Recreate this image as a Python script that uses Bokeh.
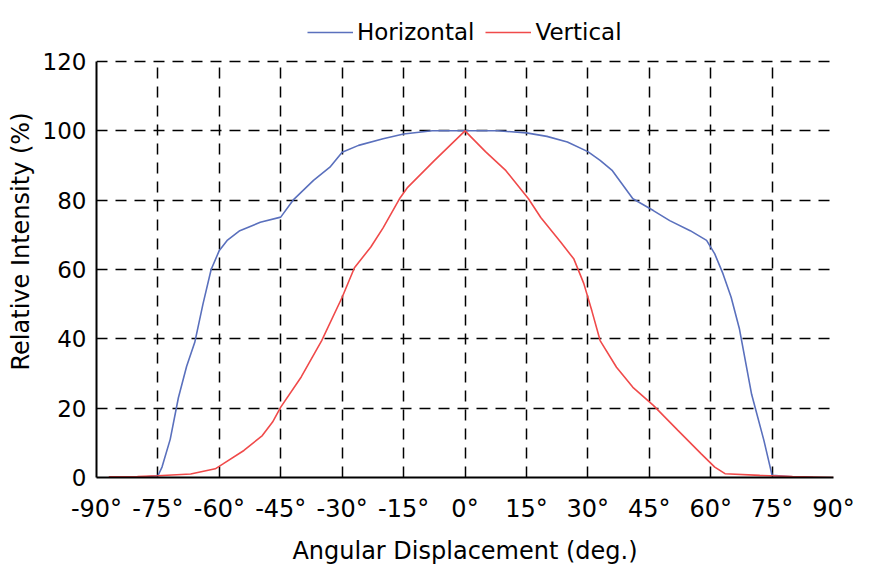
from bokeh.plotting import figure
from bokeh.models import Legend, LegendItem, FixedTicker, Range1d
from bokeh.embed import file_html
from bokeh.resources import INLINE

# Horizontal intensity profile
angles_h = [-85, -80, -75, -74, -72, -70, -68, -66, -64, -62, -60, -58, -55, -50, -45,
            -42, -37, -33, -30, -26, -20, -15, -8, 0, 8, 15, 20, 25, 30, 33, 36, 41,
            46, 50, 55, 59, 61, 63, 65, 67, 70, 73, 75, 80, 85]
intensity_h = [0, 0, 0.5, 3, 11, 23, 32, 39, 50, 60, 65.5, 68.5, 71.2, 73.6, 75.1,
               80, 85.7, 89.5, 93.8, 95.8, 97.7, 99.1, 100, 100, 100, 99.4, 98.4, 96.8, 94, 91.5, 88.5, 80.4,
               77, 74.1, 71.2, 68.4, 64.5, 58.8, 52, 43, 24, 10.7, 0.6, 0.2, 0]

# Vertical intensity profile
angles_v = [-87, -80, -75, -67, -61, -59, -54, -49.5, -47, -45, -40, -35, -30, -27, -23,
            -20, -16, -14, -7.5, 0, 5, 10, 15.5, 18.5, 23.3, 26.6, 29, 31, 33, 37, 41,
            46, 52, 57.7, 61, 63.5, 72, 80, 90]
intensity_v = [0.2, 0.3, 0.5, 1, 2.5, 4, 7.8, 12.1, 16, 20.3, 29, 39.5, 52, 60.5, 66.5,
               72, 80.4, 83.7, 91.4, 100, 94, 88.5, 80.4, 75, 68, 63, 56, 48, 39.5, 31.8, 26,
               20.8, 13.6, 6.8, 3, 1.1, 0.6, 0.3, 0]

x_ticks = [-90, -75, -60, -45, -30, -15, 0, 15, 30, 45, 60, 75, 90]
x_tick_labels = ["-90°", "-75°", "-60°", "-45°", "-30°", "-15°", "0°",
                 "15°", "30°", "45°", "60°", "75°", "90°"]
y_ticks = [0, 20, 40, 60, 80, 100, 120]
y_max = 120

BLUE = "#5a70bd"
RED = "#f04a4a"
FONT = "DejaVu Sans"

# frame reaches to the top of the figure; the space above 120 holds the legend
p = figure(width=874, height=567, output_backend="svg", toolbar_location=None, title=None,
           x_range=Range1d(-90, 90), y_range=Range1d(0, 136.15),
           min_border_left=96, min_border_right=41, min_border_top=5, min_border_bottom=90)
p.outline_line_color = None
p.background_fill_color = "white"
p.border_fill_color = "white"

for ax in (p.xaxis[0], p.yaxis[0]):
    ax.axis_line_color = "black"
    ax.axis_line_width = 2
    ax.major_tick_in = 0
    ax.major_tick_out = 0
    ax.minor_tick_in = 0
    ax.minor_tick_out = 0
    ax.major_label_text_font = FONT
    ax.major_label_text_color = "black"
    ax.axis_label_text_font = FONT
    ax.axis_label_text_font_style = "normal"
    ax.axis_label_text_color = "black"

p.xaxis.ticker = FixedTicker(ticks=x_ticks)
p.xaxis.major_label_overrides = dict(zip(x_ticks, x_tick_labels))
p.xaxis.major_label_text_font_size = "24px"
p.xaxis.major_label_standoff = 17
p.xaxis.axis_label = "Angular Displacement (deg.)"
p.xaxis.axis_label_text_font_size = "24px"
p.xaxis.axis_label_standoff = 11

p.yaxis.ticker = FixedTicker(ticks=y_ticks)
p.yaxis.bounds = (0, y_max)
p.yaxis.major_label_text_font_size = "23px"
p.yaxis.major_label_standoff = 10
p.yaxis.axis_label = "Relative Intensity (%)"
p.yaxis.axis_label_text_font_size = "24px"
p.yaxis.axis_label_standoff = 5

for g in (p.xgrid[0], p.ygrid[0]):
    g.grid_line_color = "black"
    g.grid_line_width = 1.5
    g.grid_line_dash = "11 8"
# vertical grid lines stop at 120
p.xgrid[0].cross_bounds = (0, y_max)

r_h = p.line(angles_h, intensity_h, line_color=BLUE, line_width=1.6)
r_v = p.line(angles_v, intensity_v, line_color=RED, line_width=1.6)

legend = Legend(items=[LegendItem(label="Horizontal", renderers=[r_h]),
                       LegendItem(label="Vertical", renderers=[r_v])],
                orientation="horizontal", location=(211, 432),
                padding=0, margin=0, spacing=11, label_standoff=4,
                glyph_width=46, glyph_height=20,
                label_text_font=FONT, label_text_font_size="23px",
                label_text_color="black",
                border_line_color=None, background_fill_alpha=0)
p.add_layout(legend)

open("out.html", "w").write(file_html(p, INLINE))
